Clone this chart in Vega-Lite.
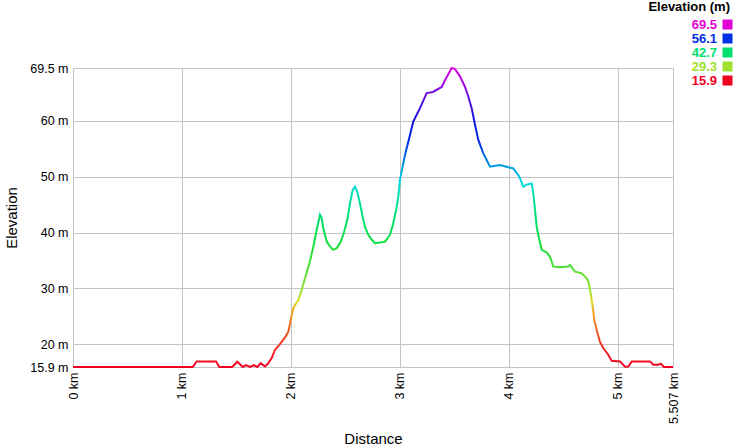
{
  "$schema": "https://vega.github.io/schema/vega-lite/v6.json",
  "width": 600,
  "height": 299,
  "autosize": "none",
  "padding": {"left": 73, "top": 68, "right": 65, "bottom": 80},
  "background": "white",
  "title": {"text": "Elevation (m)", "anchor": "end", "frame": "group", "font": "Liberation Sans", "fontSize": 13, "fontWeight": "bold", "color": "#000", "dx": 57},
  "config": {
    "view": {"stroke": null},
    "font": "Liberation Sans",
    "axis": {"labelFont": "Liberation Sans", "titleFont": "Liberation Sans", "labelColor": "#000", "titleColor": "#000", "labelFontSize": 12.5, "titleFontSize": 15, "titleFontWeight": "normal", "gridColor": "#c4c4c4", "gridOpacity": 1, "ticks": false, "domain": false}
  },
  "datasets": {
    "profile": [
      {"d": 0, "e": 15.9}, {"d": 1.099, "e": 15.9}, {"d": 1.135, "e": 16.9}, {"d": 1.313, "e": 16.9}, {"d": 1.343, "e": 15.9},
      {"d": 1.457, "e": 15.9}, {"d": 1.471, "e": 16.1}, {"d": 1.508, "e": 16.85}, {"d": 1.533, "e": 16.4}, {"d": 1.558, "e": 15.9},
      {"d": 1.588, "e": 16.25}, {"d": 1.625, "e": 15.9}, {"d": 1.661, "e": 16.25}, {"d": 1.692, "e": 15.9}, {"d": 1.723, "e": 16.6},
      {"d": 1.762, "e": 16.0}, {"d": 1.793, "e": 16.6}, {"d": 1.824, "e": 17.5}, {"d": 1.854, "e": 19.0}, {"d": 1.894, "e": 19.85},
      {"d": 1.946, "e": 21.2}, {"d": 1.976, "e": 22.2}, {"d": 1.992, "e": 23.7}, {"d": 2.007, "e": 25.2}, {"d": 2.022, "e": 26.4},
      {"d": 2.038, "e": 27.0}, {"d": 2.068, "e": 27.9}, {"d": 2.093, "e": 29.3}, {"d": 2.129, "e": 31.8}, {"d": 2.175, "e": 34.8},
      {"d": 2.206, "e": 37.5}, {"d": 2.237, "e": 40.5}, {"d": 2.267, "e": 43.2}, {"d": 2.283, "e": 42.6}, {"d": 2.297, "e": 40.8},
      {"d": 2.329, "e": 38.4}, {"d": 2.359, "e": 37.5}, {"d": 2.389, "e": 36.9}, {"d": 2.42, "e": 37.2}, {"d": 2.451, "e": 38.1},
      {"d": 2.481, "e": 39.6}, {"d": 2.518, "e": 42.3}, {"d": 2.542, "e": 45.2}, {"d": 2.567, "e": 47.6}, {"d": 2.588, "e": 48.2},
      {"d": 2.609, "e": 47.3}, {"d": 2.634, "e": 45.2}, {"d": 2.659, "e": 42.8}, {"d": 2.68, "e": 41.0}, {"d": 2.71, "e": 39.6},
      {"d": 2.742, "e": 38.7}, {"d": 2.772, "e": 38.1}, {"d": 2.818, "e": 38.2}, {"d": 2.864, "e": 38.4}, {"d": 2.91, "e": 39.6},
      {"d": 2.94, "e": 41.7}, {"d": 2.971, "e": 44.6}, {"d": 2.986, "e": 46.4}, {"d": 3.001, "e": 49.5}, {"d": 3.047, "e": 53.9},
      {"d": 3.093, "e": 57.5}, {"d": 3.123, "e": 59.9}, {"d": 3.185, "e": 62.3}, {"d": 3.246, "e": 65.0}, {"d": 3.304, "e": 65.2},
      {"d": 3.384, "e": 66.1}, {"d": 3.414, "e": 67.3}, {"d": 3.476, "e": 69.5}, {"d": 3.506, "e": 69.3}, {"d": 3.552, "e": 68.0},
      {"d": 3.598, "e": 66.1}, {"d": 3.628, "e": 64.4}, {"d": 3.659, "e": 62.3}, {"d": 3.69, "e": 59.3}, {"d": 3.72, "e": 56.6},
      {"d": 3.766, "e": 54.2}, {"d": 3.797, "e": 53.0}, {"d": 3.827, "e": 51.8}, {"d": 3.919, "e": 52.1}, {"d": 3.995, "e": 51.7},
      {"d": 4.041, "e": 51.5}, {"d": 4.087, "e": 50.3}, {"d": 4.103, "e": 49.7}, {"d": 4.133, "e": 48.2}, {"d": 4.164, "e": 48.6},
      {"d": 4.21, "e": 48.8}, {"d": 4.225, "e": 47.0}, {"d": 4.241, "e": 44.0}, {"d": 4.256, "e": 41.0}, {"d": 4.28, "e": 38.7},
      {"d": 4.302, "e": 36.9}, {"d": 4.348, "e": 36.4}, {"d": 4.378, "e": 35.7}, {"d": 4.408, "e": 33.9}, {"d": 4.47, "e": 33.8},
      {"d": 4.546, "e": 33.9}, {"d": 4.562, "e": 34.2}, {"d": 4.608, "e": 33.0}, {"d": 4.669, "e": 32.7}, {"d": 4.715, "e": 31.8},
      {"d": 4.73, "e": 31.2}, {"d": 4.752, "e": 29.1}, {"d": 4.77, "e": 26.7}, {"d": 4.785, "e": 24.3}, {"d": 4.807, "e": 22.5},
      {"d": 4.837, "e": 20.4}, {"d": 4.867, "e": 19.3}, {"d": 4.913, "e": 18.1}, {"d": 4.944, "e": 17.0}, {"d": 5.021, "e": 16.9},
      {"d": 5.067, "e": 15.95}, {"d": 5.097, "e": 16.0}, {"d": 5.128, "e": 16.9}, {"d": 5.296, "e": 16.9}, {"d": 5.326, "e": 16.3},
      {"d": 5.372, "e": 16.3}, {"d": 5.394, "e": 16.5}, {"d": 5.424, "e": 15.9}, {"d": 5.507, "e": 15.9}
    ],
    "legendRows": [
      {"lab": "69.5", "e": 69.5}, {"lab": "56.1", "e": 56.1}, {"lab": "42.7", "e": 42.7}, {"lab": "29.3", "e": 29.3}, {"lab": "15.9", "e": 15.9}
    ]
  },
  "layer": [
    {
      "data": {"name": "profile"},
      "mark": {
        "type": "line",
        "strokeWidth": 2,
        "stroke": {
          "gradient": "linear", "x1": 0, "y1": 1, "x2": 0, "y2": 0,
          "stops": [
            {"offset": 0, "color": "#f00020"},
            {"offset": 0.08, "color": "#f03820"},
            {"offset": 0.14, "color": "#f07020"},
            {"offset": 0.19, "color": "#f0b020"},
            {"offset": 0.22, "color": "#dcd820"},
            {"offset": 0.25, "color": "#a0e030"},
            {"offset": 0.33, "color": "#50e030"},
            {"offset": 0.42, "color": "#10e040"},
            {"offset": 0.5, "color": "#00e070"},
            {"offset": 0.57, "color": "#00e0b0"},
            {"offset": 0.62, "color": "#00d8e0"},
            {"offset": 0.68, "color": "#0090e0"},
            {"offset": 0.75, "color": "#0030e8"},
            {"offset": 0.82, "color": "#1010e0"},
            {"offset": 0.9, "color": "#6010e0"},
            {"offset": 0.96, "color": "#b008e0"},
            {"offset": 1, "color": "#e000e0"}
          ]
        }
      },
      "encoding": {
        "x": {
          "field": "d", "type": "quantitative",
          "scale": {"domain": [0, 5.507], "nice": false, "zero": false},
          "axis": {"title": "Distance", "values": [0, 1, 2, 3, 4, 5, 5.507], "labelExpr": "datum.value + ' km'", "labelAngle": 270, "labelPadding": 5, "titlePadding": 8}
        },
        "y": {
          "field": "e", "type": "quantitative",
          "scale": {"domain": [15.9, 69.5], "nice": false, "zero": false},
          "axis": {"title": "Elevation", "values": [15.9, 20, 30, 40, 50, 60, 69.5], "labelExpr": "datum.value + ' m'", "labelPadding": 5, "titlePadding": 10}
        }
      }
    },
    {
      "data": {"name": "legendRows"},
      "mark": {"type": "square", "opacity": 0},
      "encoding": {
        "x": {"datum": 0, "type": "quantitative"},
        "y": {"field": "e", "type": "quantitative"},
        "color": {
          "field": "lab", "type": "nominal",
          "scale": {"domain": ["69.5", "56.1", "42.7", "29.3", "15.9"], "range": ["#e000d8", "#0030e8", "#00e070", "#a0e030", "#f00020"]},
          "legend": {
            "title": null,
            "orient": "none", "legendX": 648, "legendY": -50,
            "symbolType": "square", "symbolSize": 100, "symbolOpacity": 1, "symbolStrokeWidth": 0,
            "labelFont": "Liberation Sans", "labelFontSize": 13, "labelFontWeight": "bold",
            "labelAlign": "right", "labelOffset": -17,
            "rowPadding": -1,
            "encode": {"labels": {"update": {"fill": {"scale": "color", "field": "value"}}}}
          }
        }
      }
    }
  ]
}
